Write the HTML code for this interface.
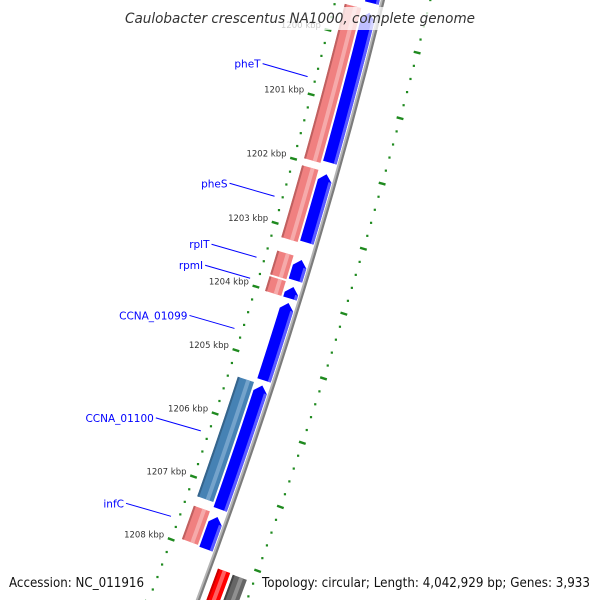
<!DOCTYPE html>
<html><head><meta charset="utf-8"><style>
html,body{margin:0;padding:0;background:#fff;width:600px;height:600px;overflow:hidden;}
svg{display:block;overflow:hidden;}
</style></head><body>
<svg id="map" width="600" height="600" viewBox="0 0 600 600" xmlns="http://www.w3.org/2000/svg">
<g id="rings"></g>
<g id="backbone"></g>
<g id="features"></g>
<g id="ticklabels"></g>
<g id="genelabels"></g>
<rect x="120" y="7" width="360" height="23" fill="#fff" fill-opacity="0.75"/>
<text x="300" y="23" text-anchor="middle" font-family="DejaVu Sans, Liberation Sans, sans-serif" font-style="italic" font-size="14" fill="#333" textLength="350" lengthAdjust="spacingAndGlyphs">Caulobacter crescentus NA1000, complete genome</text>
<text x="9" y="587" font-family="DejaVu Sans, Liberation Sans, sans-serif" font-size="13" fill="#111" textLength="135" lengthAdjust="spacingAndGlyphs">Accession: NC_011916</text>
<text x="262" y="587" font-family="DejaVu Sans, Liberation Sans, sans-serif" font-size="13" fill="#111" textLength="328" lengthAdjust="spacingAndGlyphs">Topology: circular; Length: 4,042,929 bp; Genes: 3,933</text>
</svg>
<script>
const tickKbp = [1200,1201,1202,1203,1204,1205,1206,1207,1208];
const tickLabels = ["1200 kbp","1201 kbp","1202 kbp","1203 kbp","1204 kbp","1205 kbp","1206 kbp","1207 kbp","1208 kbp"];
const featStart = [1198.0,1199.60,1202.09,1203.42,1203.84,1204.09,1205.38,1207.45,1199.56,1202.06,1203.39,1203.79,1205.37,1207.41,1208.17,1208.18];
const featEnd   = [1199.45,1201.91,1203.15,1203.74,1204.02,1205.30,1207.33,1207.96,1201.95,1203.18,1203.76,1204.02,1207.26,1207.94,1210.5,1210.5];
const featLane  = [0,0,0,0,0,0,0,0,1,1,1,1,1,1,2,3];
const featKind  = ["cds","cds","cds","cds","cds","cds","cds","cds","pink","pink","pink","pink","steel","pink","red","gray"];
const geneNames = ["pheT","pheS","rplT","rpmI","CCNA_01099","CCNA_01100","infC"];
const geneFeat  = [8,9,10,11,5,12,13];

const NS="http://www.w3.org/2000/svg";
const CX=-4844, CY=-1283;
const DEG0=14.96, K0=1201, DPK=0.7157;
const R_BACK=5382, R_LEFT=5336, R_RIGHT=5428;
const LANES=[[5365,5379],[5346,5363],[5390,5403],[5406,5421]];
function angle(k){return DEG0+(k-K0)*DPK;}
function pt(r,deg){const a=deg*Math.PI/180;return [CX+r*Math.cos(a),CY+r*Math.sin(a)];}
function mk(tag,attrs,parent){const e=document.createElementNS(NS,tag);for(const k in attrs)e.setAttribute(k,attrs[k]);parent.appendChild(e);return e;}
function band(r1,r2,a1,a2,arrow){
  const pts=[];const n=24;
  let s=a1;
  if(arrow){s=a1+(7/((r1+r2)/2))*180/Math.PI;}
  for(let i=0;i<=n;i++){pts.push(pt(r2,s+(a2-s)*i/n));}
  for(let i=n;i>=0;i--){pts.push(pt(r1,s+(a2-s)*i/n));}
  if(arrow){pts.push(pt((r1+r2)/2,a1));}
  return pts.map(p=>p[0].toFixed(2)+","+p[1].toFixed(2)).join(" ");
}
function arcPath(r,a1,a2){const p=pt(r,a1),q=pt(r,a2);return `M${p[0]},${p[1]} A${r},${r} 0 0 1 ${q[0]},${q[1]}`;}

const rings=document.getElementById('rings');
for(const R of [R_LEFT,R_RIGHT]){
  for(let k=1196;k<=1211.001;k+=0.2){
    const kk=Math.round(k*5)/5;
    const isMajor=Math.abs(kk-Math.round(kk))<1e-6;
    const a=angle(kk);
    if(isMajor){
      const p=pt(R-3.5,a),q=pt(R+3.5,a);
      const l=mk('line',{x1:p[0],y1:p[1],x2:q[0],y2:q[1],stroke:'#1f8a1f','stroke-width':2.4},rings);
      
      
    }else{
      const p=pt(R,a);
      const d=mk('rect',{x:p[0]-1,y:p[1]-1,width:2.2,height:2.2,fill:'#1f8a1f'},rings);
      
      
    }
  }
}
const bb=document.getElementById('backbone');
const b1=mk('path',{d:arcPath(R_BACK-1,10,24),stroke:'#b4b4b4','stroke-width':2,fill:'none'},bb);


const b2=mk('path',{d:arcPath(R_BACK+1,10,24),stroke:'#7c7c7c','stroke-width':2.2,fill:'none'},bb);


const colors={cds:['#0000ff','#5a5aff','#0000cc','out'],pink:['#f08080','#f6aaaa','#c06060','in'],steel:['#4682b4','#74a3cb','#35648c','in'],red:['#ff0000','#ff6060','#cc0000','in'],gray:['#666666','#909090','#444444','in']};
const fg=document.getElementById('features');
for(let i=0;i<featStart.length;i++){
  const [r1,r2]=LANES[featLane[i]];
  const a1=angle(featStart[i]),a2=angle(featEnd[i]);
  const c=colors[featKind[i]];
  const arrow=featKind[i]==='cds';
  const g=mk('g',{},fg);
  
  
  mk('polygon',{points:band(r1,r2,a1,a2,arrow),fill:c[0]},g);
  const s=arrow?a1+(7/((r1+r2)/2))*180/Math.PI:a1;
  if(c[3]==='out'){
    mk('polygon',{points:band(r2-3,r2,s,a2,false),fill:c[1]},g);
  }else{
    mk('polygon',{points:band(r1,r1+2,s,a2,false),fill:c[2]},g);
    mk('polygon',{points:band(r2-8,r2-4,s,a2,false),fill:c[1]},g);
  }
}
const tl=document.getElementById('ticklabels');
for(let i=0;i<tickKbp.length;i++){
  const p=pt(R_LEFT,angle(tickKbp[i]));
  const t=mk('text',{x:p[0]-7,y:p[1]-2,'text-anchor':'end','font-family':'DejaVu Sans, Liberation Sans, sans-serif','font-size':8.5,fill:'#333'},tl);
  t.textContent=tickLabels[i];
  
  
}
const gl=document.getElementById('genelabels');
for(let i=0;i<geneNames.length;i++){
  const f=geneFeat[i];
  const m=angle((featStart[f]+featEnd[f])/2);
  const e=pt(5328,m);
  const s=[e[0]-45,e[1]-13];
  const l=mk('line',{x1:s[0],y1:s[1],x2:e[0],y2:e[1],stroke:'#0000ff','stroke-width':1},gl);
  
  
  const t=mk('text',{x:s[0]-2,y:s[1]+4,'text-anchor':'end','font-family':'DejaVu Sans, Liberation Sans, sans-serif','font-size':10.5,fill:'#0000ff'},gl);
  t.textContent=geneNames[i];
  
  
}
</script>
</body></html>
